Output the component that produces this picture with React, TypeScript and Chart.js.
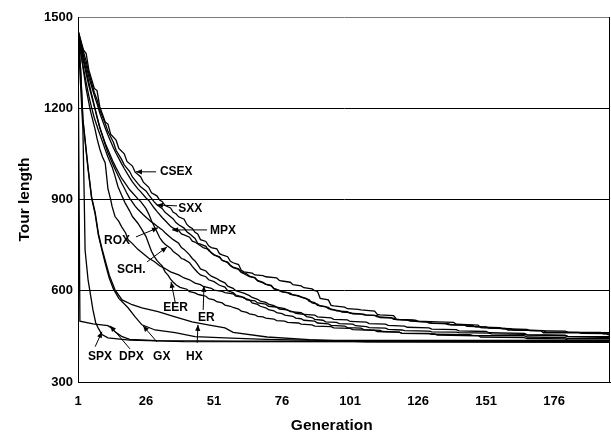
import React, { useEffect, useRef } from 'react';
import { Chart, registerables } from 'chart.js';

Chart.register(...registerables);

// Generation tick labels and tour-length ticks
const xTicks = [1, 26, 51, 76, 101, 126, 151, 176];
const yTicks = [300, 600, 900, 1200, 1500];

// Each series: [generation, best tour length]
const CSEX = [[1,1457],[3,1392],[4,1380],[5,1325],[7,1265],[8,1258],[9,1205],[11,1155],[12,1148],[13,1115],[15,1095],[16,1068],[18,1050],[19,1025],[21,1010],[22,990],[24,975],[25,957],[27,940],[28,922],[30,912],[31,898],[32,893],[33,880],[35,872],[36,858],[37,853],[38,843],[40,835],[41,818],[42,810],[43,805],[44,792],[45,787],[46,768],[48,762],[49,748],[50,742],[52,738],[53,722],[54,718],[56,712],[57,697],[58,692],[60,686],[61,667],[62,662],[65,658],[66,652],[69,650],[70,646],[74,642],[75,634],[76,632],[79,628],[80,620],[83,616],[84,610],[87,606],[88,600],[89,598],[90,575],[93,570],[94,552],[95,550],[99,546],[100,541],[104,539],[105,537],[110,533],[111,522],[112,521],[117,518],[118,507],[119,506],[125,503],[126,500],[133,498],[139,496],[140,490],[148,487],[149,479],[150,478],[158,476],[159,471],[160,471],[171,469],[172,462],[197,462]];
const SXX = [[1,1455],[3,1385],[4,1355],[5,1315],[7,1252],[8,1228],[9,1194],[11,1150],[12,1124],[14,1088],[15,1062],[17,1032],[18,1014],[20,992],[21,974],[23,952],[24,942],[26,928],[27,915],[29,892],[30,883],[32,870],[33,858],[34,851],[36,836],[37,824],[38,817],[40,806],[41,794],[42,787],[44,772],[45,756],[46,753],[48,746],[49,732],[50,726],[51,718],[53,712],[54,700],[56,692],[57,682],[58,676],[60,670],[61,660],[62,656],[64,646],[66,642],[67,632],[69,626],[70,621],[72,616],[73,606],[75,600],[76,596],[79,592],[80,586],[82,582],[83,579],[86,570],[87,560],[89,556],[90,550],[93,545],[94,538],[97,535],[98,530],[101,528],[102,524],[106,523],[107,520],[111,518],[112,512],[117,510],[118,505],[124,503],[125,499],[130,497],[131,493],[137,492],[138,488],[146,486],[147,481],[156,479],[157,475],[166,473],[167,469],[180,467],[181,464],[193,463],[194,458],[197,458]];
const MPX = [[1,1455],[3,1374],[4,1340],[5,1302],[7,1242],[8,1215],[9,1184],[11,1135],[12,1112],[14,1070],[15,1052],[17,1018],[18,1002],[20,972],[21,958],[23,935],[24,926],[26,905],[27,897],[29,872],[30,861],[32,840],[33,831],[35,812],[36,806],[38,798],[39,787],[40,784],[42,776],[43,763],[44,760],[46,748],[47,742],[49,736],[50,724],[51,718],[53,710],[54,700],[56,694],[57,684],[58,678],[60,672],[61,662],[63,656],[64,648],[66,643],[67,634],[69,628],[70,622],[72,618],[73,608],[75,601],[76,597],[78,594],[79,588],[82,584],[83,580],[85,574],[86,565],[88,561],[89,552],[92,548],[93,541],[95,538],[96,534],[100,531],[101,526],[105,524],[106,521],[110,519],[111,514],[116,512],[117,506],[122,504],[123,500],[129,498],[130,494],[136,492],[137,489],[143,487],[144,483],[151,481],[152,477],[160,475],[161,471],[172,469],[173,465],[185,463],[186,460],[195,459],[196,455],[197,455]];
const ROX = [[1,1450],[3,1364],[4,1325],[5,1284],[7,1208],[8,1172],[9,1138],[11,1080],[12,1054],[14,1012],[15,992],[17,955],[18,938],[19,920],[20,904],[22,878],[23,868],[25,850],[26,842],[28,826],[29,820],[30,813],[32,800],[33,791],[35,775],[36,768],[38,756],[39,742],[40,736],[42,718],[43,706],[44,698],[45,686],[46,672],[48,665],[49,655],[50,648],[52,640],[53,634],[55,626],[56,615],[58,608],[59,600],[61,595],[62,592],[64,584],[65,578],[67,572],[68,566],[70,562],[71,556],[73,551],[74,546],[77,541],[78,536],[80,531],[81,526],[84,522],[85,515],[87,512],[88,506],[91,503],[92,498],[96,496],[97,492],[102,490],[103,485],[107,482],[108,479],[114,477],[115,473],[120,471],[121,469],[130,467],[131,465],[140,464],[141,462],[152,461],[153,458],[165,457],[166,454],[180,452],[181,449],[197,449]];
const SCH = [[1,1448],[3,1354],[4,1312],[5,1274],[7,1206],[8,1170],[9,1136],[11,1085],[12,1064],[14,1022],[15,1004],[17,970],[18,958],[20,932],[21,922],[23,902],[24,894],[26,870],[27,852],[28,830],[29,812],[30,794],[31,775],[32,762],[33,753],[35,740],[36,729],[38,716],[39,706],[40,703],[42,692],[43,680],[44,670],[45,660],[46,652],[48,646],[49,636],[51,630],[52,624],[53,618],[55,612],[56,600],[58,594],[59,586],[61,581],[62,576],[64,570],[65,560],[67,555],[68,549],[70,544],[71,538],[73,534],[74,528],[76,525],[77,520],[80,516],[81,510],[83,508],[84,503],[88,500],[89,494],[93,491],[94,486],[99,484],[100,479],[105,477],[106,472],[112,470],[113,466],[119,464],[120,461],[130,460],[131,457],[145,456],[146,453],[165,452],[166,448],[180,446],[181,443],[197,443]];
const EER = [[1,1445],[2,1384],[3,1330],[4,1284],[5,1240],[6,1202],[7,1168],[8.4,1130],[10,1090],[11,1064],[12,1040],[13.5,1008],[14.5,980],[15.7,942],[17,915],[18.3,889],[20,862],[21,844],[23,822],[24.5,801],[26,778],[27,754],[28,730],[29,713],[30,700],[31,690],[32,681],[33,662],[34,652],[35,638],[36,628],[37,620],[38.5,611],[41,605],[42,597],[44,593],[45,588],[46,586],[48,582],[49,574],[51,570],[52,564],[54,560],[55,553],[57,549],[58,545],[60,540],[61,533],[63,529],[64,524],[66,521],[67,516],[69,514],[70,510],[73,507],[74,502],[77,500],[78,496],[82,494],[83,490],[87,488],[88,484],[94,482],[95,478],[101,476],[102,472],[110,470],[111,466],[119,464],[120,460],[132,458],[133,454],[148,452],[149,448],[165,446],[166,443],[180,442],[181,438],[197,438]];
const ER = [[1,1450],[2.5,1354],[4,1264],[5.5,1194],[7.3,1130],[8,1100],[9,1066],[10,1040],[11,1020],[12,936],[13,900],[13.5,878],[14.6,844],[16,828],[17,811],[18.5,790],[19.4,768],[21,755],[23,736],[25,722],[27,707],[29,696],[31,682],[33,673],[35,662],[38,652],[40,642],[42,636],[44,625],[46,620],[47,614],[50,608],[51,602],[54,598],[55,594],[58,590],[59,582],[62,578],[63,570],[66,567],[67,560],[70,556],[71,549],[74,546],[75,540],[78,537],[79,531],[83,528],[84,522],[88,520],[89,514],[94,511],[95,506],[100,504],[101,499],[107,497],[108,492],[114,490],[115,486],[121,484],[122,480],[130,478],[131,474],[140,472],[141,468],[151,466],[152,462],[165,460],[166,456],[180,454],[181,450],[197,446]];
const SPX = [[1,1460],[1.8,1300],[2.8,1130],[3.3,900],[3.6,734],[4.7,636],[6.5,537],[7.5,495],[8.4,478],[9.8,456],[12,445],[20,438],[40,433],[197,432]];
const DPX = [[1,1458],[1.7,500],[6.5,491],[12,485],[13.5,476],[14.6,465],[17,450],[20,440],[30,436],[60,434],[197,434]];
const GX = [[1,1455],[2,1318],[2.8,1160],[4.7,1000],[6,905],[7.3,852],[8.5,782],[9.8,734],[11,690],[12.5,641],[14,606],[16,575],[19.4,544],[22,514],[24.5,488],[29.3,471],[36.7,462],[44,449],[55,445],[70,440],[90,437],[197,437]];
const HX = [[1,1452],[2,1322],[2.8,1165],[4.7,1004],[6,908],[7.3,858],[8.5,788],[9.8,739],[11,700],[12.5,651],[14.6,603],[17.2,570],[20.9,554],[24.5,544],[30.4,531],[36.7,514],[42.9,498],[48.8,488],[55,478],[58,463],[70.5,448],[86,439],[107,432],[197,430]];

const seriesNames = ['CSEX', 'SXX', 'MPX', 'ROX', 'SCH.', 'EER', 'ER', 'SPX', 'DPX', 'GX', 'HX'];
const seriesData = [CSEX, SXX, MPX, ROX, SCH, EER, ER, SPX, DPX, GX, HX];

// Call-out labels: text anchor (left-middle), arrow start, arrow tip — in data units
const callouts = [
  { label: 'CSEX', text: [31.1, 991], from: [29.7, 991], to: [22.3, 991] },
  { label: 'SXX', text: [37.8, 869], from: [37.4, 879], to: [30.0, 882] },
  { label: 'MPX', text: [49.5, 798], from: [48.4, 800], to: [35.6, 800] },
  { label: 'ROX', text: [10.6, 764], from: [22.3, 777], to: [30.4, 807] },
  { label: 'SCH.', text: [15.3, 669], from: [26.4, 695], to: [33.7, 744] },
  { label: 'EER', text: [32.3, 544], from: [36.7, 563], to: [35.2, 629] },
  { label: 'ER', text: [45.1, 511], from: [47.0, 537], to: [47.3, 616] },
  { label: 'SPX', text: [4.7, 383], from: [7.3, 416], to: [9.8, 465] },
  { label: 'DPX', text: [16.1, 383], from: [20.1, 409], to: [12.8, 485] },
  { label: 'GX', text: [28.6, 383], from: [30.0, 432], to: [24.9, 485] },
  { label: 'HX', text: [40.7, 383], from: [44.8, 429], to: [45.1, 488] },
];

const FONT = '"Liberation Sans", Arial, Helvetica, sans-serif';

const calloutPlugin = {
  id: 'callouts',
  afterDatasetsDraw(chart: any) {
    const { ctx, chartArea } = chart;
    const xs = chart.scales.x;
    const ys = chart.scales.y;
    ctx.save();
    // right frame line of plot area
    ctx.strokeStyle = '#000';
    ctx.lineWidth = 1;
    ctx.beginPath();
    ctx.moveTo(Math.round(chartArea.right) - 0.5, chartArea.top);
    ctx.lineTo(Math.round(chartArea.right) - 0.5, chartArea.bottom);
    ctx.stroke();

    ctx.fillStyle = '#000';
    ctx.font = `bold 12px ${FONT}`;
    ctx.textAlign = 'left';
    ctx.textBaseline = 'middle';
    callouts.forEach((c) => {
      const x1 = xs.getPixelForValue(c.from[0]);
      const y1 = ys.getPixelForValue(c.from[1]);
      const x2 = xs.getPixelForValue(c.to[0]);
      const y2 = ys.getPixelForValue(c.to[1]);
      ctx.lineWidth = 1;
      ctx.beginPath();
      ctx.moveTo(x1, y1);
      ctx.lineTo(x2, y2);
      ctx.stroke();
      const ang = Math.atan2(y2 - y1, x2 - x1);
      const len = 6;
      const w = 2.6;
      ctx.beginPath();
      ctx.moveTo(x2, y2);
      ctx.lineTo(x2 - len * Math.cos(ang) + w * Math.sin(ang), y2 - len * Math.sin(ang) - w * Math.cos(ang));
      ctx.lineTo(x2 - len * Math.cos(ang) - w * Math.sin(ang), y2 - len * Math.sin(ang) + w * Math.cos(ang));
      ctx.closePath();
      ctx.fill();
      ctx.fillText(c.label, xs.getPixelForValue(c.text[0]), ys.getPixelForValue(c.text[1]));
    });

    // x-axis title (placed slightly left of plot centre as in the source)
    ctx.font = `bold 15.5px ${FONT}`;
    ctx.textAlign = 'center';
    ctx.textBaseline = 'middle';
    const cx = chartArea.left + (chartArea.right - chartArea.left) * 0.477;
    ctx.fillText('Generation', cx, chart.height - 8);
    ctx.restore();
  },
};

export default function App() {
  const ref = useRef<HTMLCanvasElement | null>(null);

  useEffect(() => {
    if (!ref.current) return;
    const chart = new Chart(ref.current, {
      type: 'line',
      data: {
        datasets: seriesData.map((s, i) => ({
          label: seriesNames[i],
          data: s.map(([g, v]) => ({ x: g, y: v })),
          borderColor: '#000',
          backgroundColor: '#000',
          borderWidth: 1.3,
          pointRadius: 0,
          tension: 0,
          fill: false,
        })),
      },
      options: {
        animation: false,
        responsive: false,
        events: [],
        layout: { padding: { left: 8, top: 17, right: 1, bottom: 0 } },
        plugins: { legend: { display: false }, tooltip: { enabled: false }, title: { display: false } },
        scales: {
          x: {
            type: 'linear',
            min: 1,
            max: 196.5,
            afterBuildTicks: (scale: any) => {
              scale.ticks = xTicks.map((v) => ({ value: v }));
            },
            afterFit: (scale: any) => {
              scale.height = 52;
            },
            grid: { display: false, drawTicks: false },
            border: { display: true, color: '#000', width: 1 },
            ticks: {
              color: '#000',
              padding: 12,
              maxRotation: 0,
              autoSkip: false,
              font: { family: FONT, size: 13, weight: 'bold' },
              callback: (v: any) => String(v),
            },
            title: { display: false },
          },
          y: {
            min: 300,
            max: 1500,
            afterBuildTicks: (scale: any) => {
              scale.ticks = yTicks.map((v) => ({ value: v }));
            },
            afterFit: (scale: any) => {
              scale.width = 70;
            },
            grid: {
              drawTicks: false,
              color: (ctx: any) => (ctx.tick && ctx.tick.value === 1500 ? '#7a7a7a' : '#000'),
              lineWidth: 1,
            },
            border: { display: true, color: '#000', width: 1 },
            ticks: {
              color: '#000',
              padding: 5,
              font: { family: FONT, size: 13, weight: 'bold' },
              callback: (v: any) => String(v),
            },
            title: {
              display: true,
              text: 'Tour length',
              color: '#000',
              padding: { top: 7, bottom: 0 },
              font: { family: FONT, size: 15.5, weight: 'bold' },
            },
          },
        },
      },
      plugins: [calloutPlugin],
    });
    return () => chart.destroy();
  }, []);

  return (
    <div style={{ position: 'absolute', left: 0, top: 0, width: 611, height: 434, background: '#fff' }}>
      <canvas ref={ref} width={611} height={434} />
    </div>
  );
}
